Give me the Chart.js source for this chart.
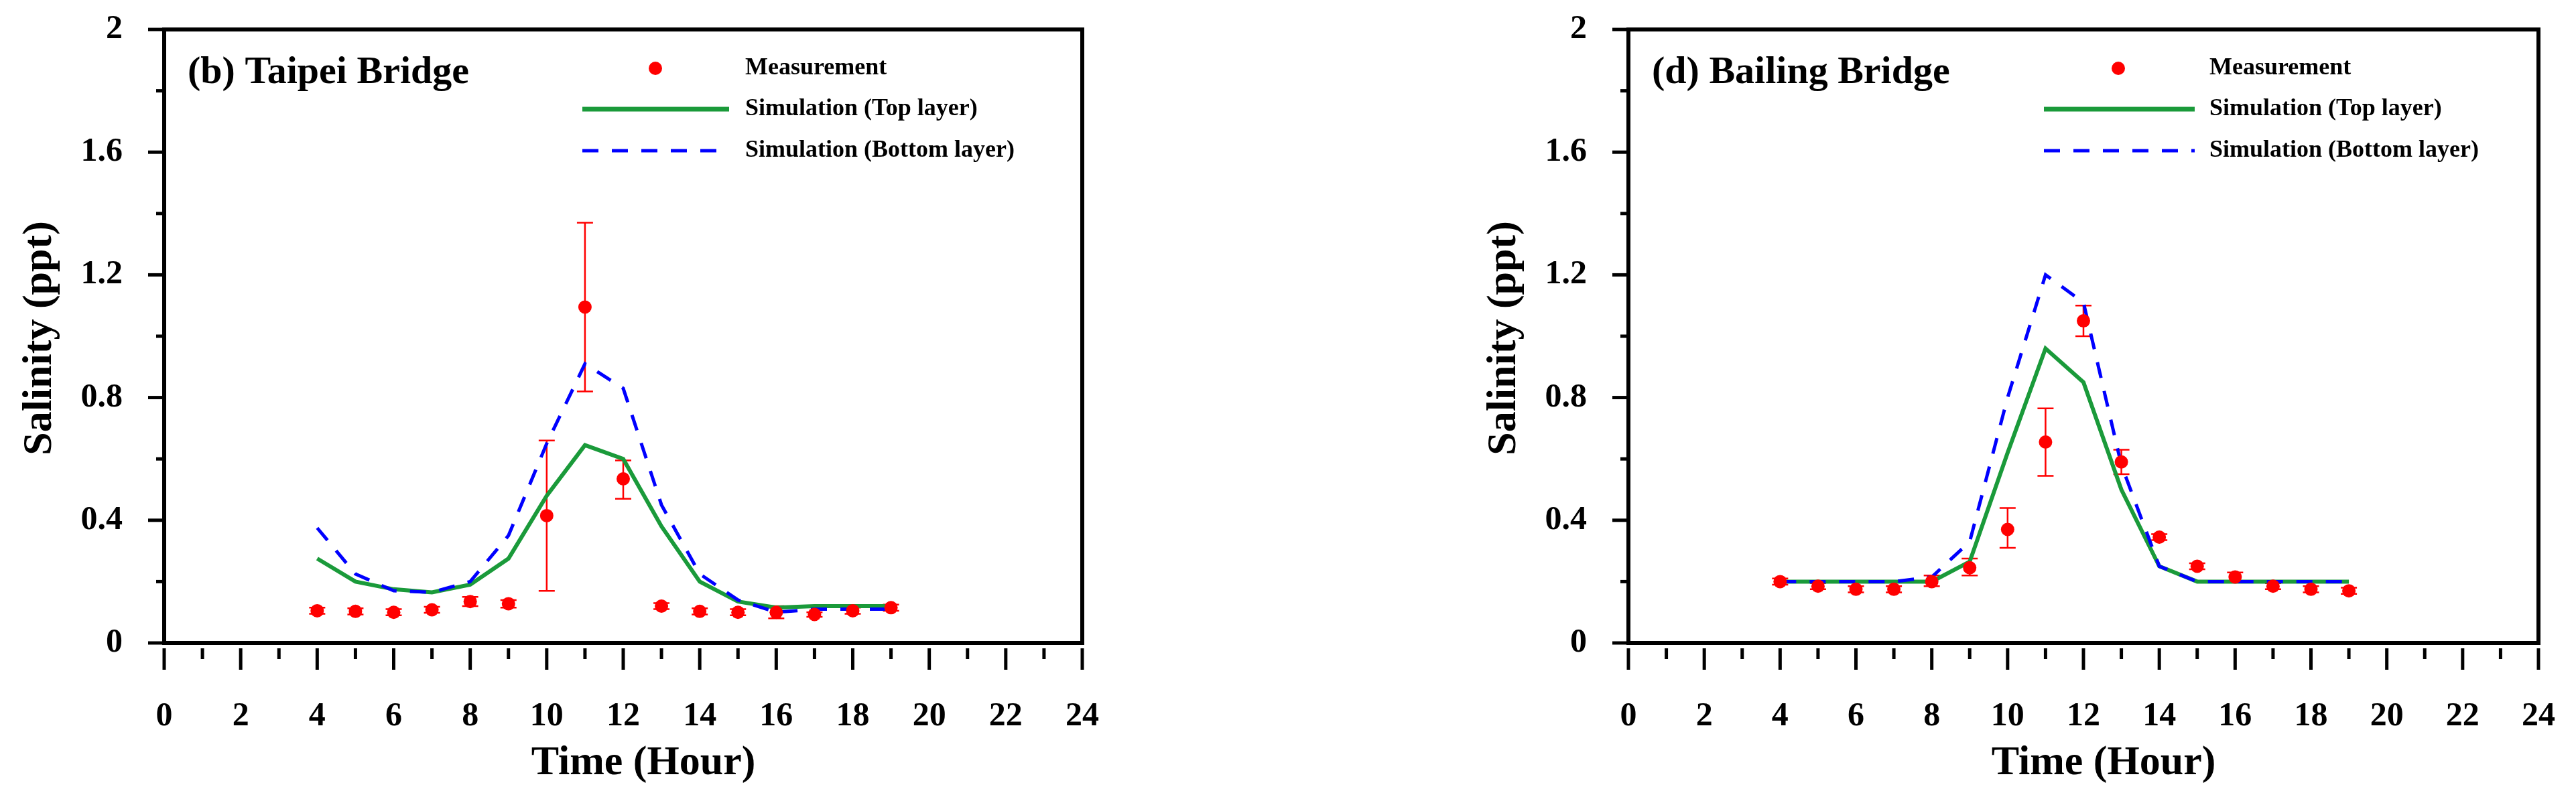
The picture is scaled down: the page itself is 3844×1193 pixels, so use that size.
<!DOCTYPE html>
<html><head><meta charset="utf-8">
<script src="https://cdn.jsdelivr.net/npm/chart.js@4.4.1/dist/chart.umd.min.js"></script>
<style>html,body{margin:0;padding:0;background:#fff;width:3844px;height:1193px;overflow:hidden}
canvas{position:absolute;left:0;top:0}</style></head>
<body>
<canvas id="c1" width="3844" height="1193"></canvas>
<canvas id="c2" width="3844" height="1193"></canvas>
<script>
const hours = [4,5,6,7,8,9,10,11,12,13,14,15,16,17,18,19];
const xTicks = [0,2,4,6,8,10,12,14,16,18,20,22,24];
const yTicks = [0,0.4,0.8,1.2,1.6,2];
const yTickLabels = ['0','0.4','0.8','1.2','1.6','2'];
const legendLabels = ['Measurement','Simulation (Top layer)','Simulation (Bottom layer)'];

const taipeiMeas = [0.105,0.103,0.1,0.108,0.135,0.128,0.415,1.095,0.535,0.12,0.103,0.1,0.1,0.093,0.105,0.115];
const taipeiLow  = [0.095,0.093,0.09,0.098,0.12,0.115,0.17,0.82,0.47,0.11,0.093,0.09,0.08,0.085,0.095,0.105];
const taipeiHigh = [0.115,0.113,0.11,0.118,0.15,0.14,0.66,1.37,0.595,0.13,0.113,0.11,0.12,0.1,0.115,0.125];
const taipeiTop  = [0.275,0.2,0.175,0.165,0.19,0.275,0.48,0.645,0.6,0.38,0.2,0.135,0.115,0.12,0.12,0.12];
const taipeiBot  = [0.375,0.225,0.17,0.165,0.2,0.35,0.65,0.91,0.83,0.45,0.225,0.14,0.1,0.11,0.11,0.11];

const bailingMeas = [0.2,0.185,0.175,0.175,0.2,0.245,0.37,0.655,1.05,0.59,0.345,0.25,0.215,0.185,0.175,0.17];
const bailingLow  = [0.19,0.175,0.165,0.165,0.185,0.22,0.31,0.545,1.0,0.55,0.335,0.24,0.2,0.175,0.165,0.16];
const bailingHigh = [0.21,0.195,0.185,0.185,0.22,0.275,0.44,0.765,1.1,0.63,0.355,0.26,0.23,0.195,0.185,0.18];
const bailingTop  = [0.2,0.2,0.2,0.2,0.2,0.265,0.62,0.96,0.85,0.5,0.25,0.2,0.2,0.2,0.2,0.2];
const bailingBot  = [0.2,0.2,0.2,0.2,0.215,0.33,0.8,1.2,1.11,0.58,0.25,0.2,0.2,0.2,0.2,0.2];

const FONT = '"Liberation Serif","Times New Roman",serif';

function makeChart(id, padL, padR, title, meas, lo, hi, top, bot, lay) {
  const deco = {
    id:'deco',
    beforeDatasetsDraw(ch){
      const c=ch.ctx, xs=ch.scales.x, ys=ch.scales.y, a=ch.chartArea;
      c.save();
      // error bars
      c.strokeStyle='#ff0000'; c.lineWidth=2.5;
      hours.forEach((h,i)=>{
        const x=xs.getPixelForValue(h), y1=ys.getPixelForValue(lo[i]), y2=ys.getPixelForValue(hi[i]);
        c.beginPath(); c.moveTo(x,y1); c.lineTo(x,y2);
        c.moveTo(x-12,y1); c.lineTo(x+12,y1); c.moveTo(x-12,y2); c.lineTo(x+12,y2); c.stroke();
      });
      c.restore();
    },
    afterDraw(ch){
      const c=ch.ctx, xs=ch.scales.x, ys=ch.scales.y, a=ch.chartArea;
      c.save();
      c.strokeStyle='#000'; c.lineWidth=6;
      c.strokeRect(a.left,a.top,a.right-a.left,a.bottom-a.top);
      c.lineWidth=5;
      // x ticks
      for(let v=0;v<=24;v++){
        const x=xs.getPixelForValue(v);
        c.beginPath(); c.moveTo(x,a.bottom+8); c.lineTo(x,a.bottom+(v%2===0?40:24)); c.stroke();
      }
      // y ticks
      for(let k=0;k<=10;k++){
        const y=ys.getPixelForValue(k*0.2);
        c.beginPath(); c.moveTo(a.left,y); c.lineTo(a.left-(k%2===0?24:12),y); c.stroke();
      }
      c.fillStyle='#000';
      c.font='bold 50px '+FONT; c.textAlign='center'; c.textBaseline='middle';
      xTicks.forEach(v=>c.fillText(String(v),xs.getPixelForValue(v),1070));
      c.textAlign='right';
      yTicks.forEach((v,i)=>c.fillText(yTickLabels[i],a.left-62,ys.getPixelForValue(v)));
      c.font='bold 62px '+FONT; c.textAlign='center';
      c.fillText('Time (Hour)',(xs.getPixelForValue(0)+xs.getPixelForValue(24))/2+30,1140);
      c.save(); c.translate(lay.ytx,505); c.rotate(-Math.PI/2); c.fillText('Salinity (ppt)',0,0); c.restore();
      // title
      c.font='bold 58px '+FONT; c.textAlign='left'; c.textBaseline='alphabetic';
      c.fillText(title,a.left+35,124);
      // legend
      c.font='bold 36px '+FONT; c.textBaseline='middle';
      const rows=[102,163,225];
      legendLabels.forEach((t,i)=>c.fillText(t,lay.tx,rows[i]));
      c.fillStyle='#ff0000'; c.beginPath(); c.arc(lay.mx,rows[0],10,0,Math.PI*2); c.fill();
      c.strokeStyle='#1a9a3a'; c.lineWidth=7; c.beginPath(); c.moveTo(lay.l0,rows[1]); c.lineTo(lay.l1,rows[1]); c.stroke();
      c.strokeStyle='#0000ff'; c.lineWidth=5; c.setLineDash([24,20]); c.beginPath(); c.moveTo(lay.l0,rows[2]); c.lineTo(lay.l1,rows[2]); c.stroke();
      c.restore();
    }
  };
  return new Chart(document.getElementById(id), {
    type:'line',
    data:{datasets:[
      {data:hours.map((h,i)=>({x:h,y:meas[i]})),showLine:false,pointRadius:10,pointBackgroundColor:'#ff0000',pointBorderWidth:0,order:0},
      {data:hours.map((h,i)=>({x:h,y:top[i]})),borderColor:'#1a9a3a',borderWidth:6,pointRadius:0,tension:0,order:2},
      {data:hours.map((h,i)=>({x:h,y:bot[i]})),borderColor:'#0000ff',borderWidth:5,borderDash:[24,20],pointRadius:0,tension:0,order:1}
    ]},
    options:{responsive:false,animation:false,devicePixelRatio:1,
      layout:{padding:{left:padL,right:padR,top:44,bottom:233}},
      plugins:{legend:{display:false},tooltip:{enabled:false}},
      scales:{x:{type:'linear',min:0,max:24,display:false},y:{min:0,max:2,display:false}}},
    plugins:[deco]
  });
}
makeChart('c1',245,3844-1615,'(b) Taipei Bridge',taipeiMeas,taipeiLow,taipeiHigh,taipeiTop,taipeiBot,
  {ytx:60,tx:1112,mx:978,l0:869,l1:1088});
makeChart('c2',2430,56,'(d) Bailing Bridge',bailingMeas,bailingLow,bailingHigh,bailingTop,bailingBot,
  {ytx:2245,tx:3297,mx:3161,l0:3050,l1:3275});
</script></body></html>
